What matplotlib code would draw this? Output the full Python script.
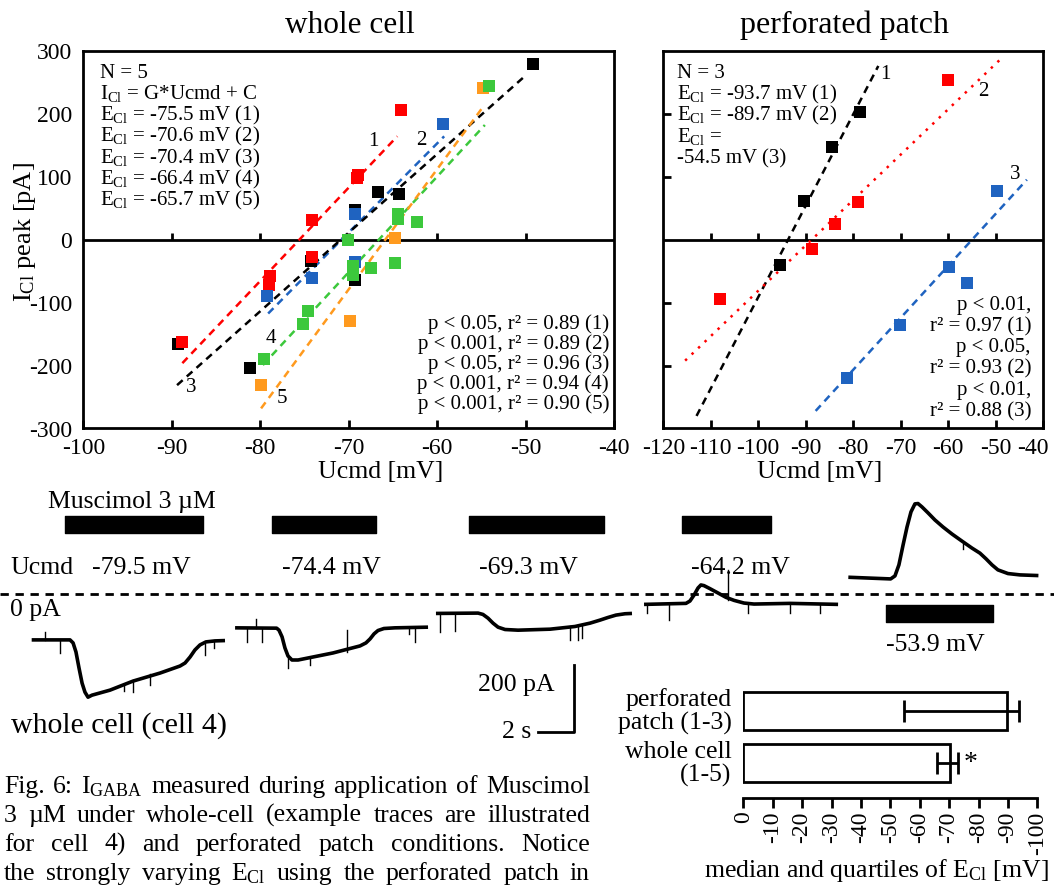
import numpy as np
import matplotlib
matplotlib.use('Agg')
import matplotlib.pyplot as plt
from matplotlib.transforms import ScaledTranslation

plt.rcParams['font.family'] = ['Liberation Serif', 'DejaVu Serif']
plt.rcParams['mathtext.fontset'] = 'custom'
plt.rcParams['mathtext.rm'] = 'Liberation Serif'
plt.rcParams['mathtext.it'] = 'Liberation Serif:italic'
plt.rcParams['axes.linewidth'] = 2
plt.rcParams['axes.unicode_minus'] = False

W, H = 1054, 888
ECL = r'$\mathregular{E_{Cl}}$'

# ---- whole cell I/V data (Ucmd [mV], I_Cl peak [pA]) ----
cell1_x = [-88.8, -79.0, -78.9, -74.1, -74.1, -69.1, -68.9, -64.1]
cell1_y = [-162, -72, -58, -27, 32, 98, 103, 207]
cell2_x = [-79.2, -74.2, -69.3, -69.3, -59.3]
cell2_y = [-89, -60, -35, 42, 185]
cell3_x = [-89.3, -81.1, -74.3, -69.3, -69.3, -66.7, -64.3, -49.2]
cell3_y = [-166, -204, -33, -64, 48, 77, 73, 280]
cell4_x = [-79.6, -75.2, -74.6, -70.1, -69.5, -69.5, -69.5, -67.5, -64.8, -64.4, -64.4, -62.3, -54.1]
cell4_y = [-189, -134, -113, 0, -42, -52, -56, -44, -37, 33, 42, 28, 245]
cell5_x = [-79.9, -69.9, -64.8, -54.8]
cell5_y = [-230, -129, 3, 242]
# fit lines (start, end)
wc_fit_x = [(-88.8, -64.5), (-79.1, -59.2), (-89.4, -49.9), (-79.7, -54.6), (-79.9, -54.8)]
wc_fit_y = [(-196, 165), (-117, 165), (-231, 263), (-199, 183), (-268, 212)]
wc_lab_x = [-67.2, -61.8, -87.8, -78.8, -77.5]
wc_lab_y = [157, 159, -234, -157, -252]
wc_ecl = [-75.5, -70.6, -70.4, -66.4, -65.7]
wc_p = ['0.05', '0.001', '0.05', '0.001', '0.001']
wc_r2 = [0.89, 0.89, 0.96, 0.94, 0.90]

# ---- perforated patch I/V data ----
pp1_x = [-95.4, -90.3, -84.5, -78.6]
pp1_y = [-40, 62, 148, 204]
pp2_x = [-108.1, -88.7, -83.8, -78.9, -60.1]
pp2_y = [-94, -14, 25, 60, 255]
pp3_x = [-81.4, -70.1, -59.9, -56.0, -49.6]
pp3_y = [-219, -135, -43, -69, 78]
pp_fit_x = [(-113.0, -74.7), (-115.4, -48.5), (-87.9, -43.4)]
pp_fit_y = [(-280, 277), (-192, 291), (-272, 96)]
pp_lab_x = [-73.3, -52.5, -45.8]
pp_lab_y = [264, 236, 104]
pp_ecl = [-93.7, -89.7, -54.5]
pp_p = ['0.01', '0.05', '0.01']
pp_r2 = [0.97, 0.93, 0.88]

# ---- example traces, cell 4 (time [s], current [pA]) ----
tr1_t = [1.76, 3.89, 4.06, 4.22, 4.39, 4.56, 4.72, 4.89, 5.11, 6.11, 7.39, 8.89, 10.0, 10.28, 10.56, 10.83,
         11.11, 11.44, 11.94, 12.5]
tr1_i = [-137, -137, -146, -173, -221, -266, -293, -308, -302, -287, -260, -236, -215, -206, -188, -167,
         -152, -143, -140, -139]
tr2_t = [13.06, 15.37, 15.5, 15.67, 15.83, 16.0, 16.22, 16.56, 18.5, 20.0, 20.33, 20.56, 20.78, 21.0, 21.33,
         21.94, 23.78]
tr2_i = [-101, -102, -108, -128, -161, -185, -197, -197, -176, -155, -146, -134, -119, -109, -103, -101, -99]
tr3_t = [24.22, 26.56, 26.83, 27.11, 27.39, 27.67, 28.06, 28.78, 30.56, 31.94, 32.78, 33.33, 33.78, 34.22,
         34.72, 35.11]
tr3_i = [-58, -57, -61, -72, -87, -99, -106, -108, -105, -97, -87, -78, -70, -63, -59, -58]
tr4_t = [35.78, 38.11, 38.33, 38.56, 38.78, 38.94, 39.11, 39.44, 39.89, 40.33, 40.78, 41.33, 41.89, 43.89, 46.56]
tr4_i = [-31, -28, -21, -3, 18, 27, 25, 16, 3, -10, -19, -27, -30, -28, -31]
tr5_t = [47.13, 49.48, 49.72, 49.94, 50.17, 50.39, 50.61, 50.83, 51.0, 51.22, 51.56, 51.94, 52.39, 52.89,
         53.44, 54.0, 54.44, 54.78, 55.11, 55.44, 56.0, 56.67, 57.69]
tr5_i = [50, 45, 54, 87, 146, 200, 245, 269, 270, 260, 242, 221, 200, 179, 158, 137, 122, 105, 87, 72, 61,
         57, 55]
# single-channel spikes (time, from, to)
spikes = [(2.5, -137, -113), (3.33, -137, -176), (7.4, -258, -293), (8.33, -240, -272), (6.9, -268, -290),
          (11.4, -150, -182), (11.9, -140, -160),
          (13.7, -101, -142), (14.2, -101, -75), (14.56, -101, -142), (16.0, -190, -221), (17.2, -193, -212),
          (19.28, -108, -173), (23.06, -99, -142), (22.7, -100, -120),
          (24.44, -58, -112), (25.28, -57, -110), (31.67, -97, -137), (32.11, -95, -137), (32.33, -94, -130),
          (35.94, -30, -57), (37.17, -28, -78), (40.44, -18, 72), (41.56, -30, -57), (43.9, -28, -57),
          (45.56, -30, -57), (53.5, 150, 135)]
# muscimol application (start [s], duration [s])
app_start = [3.62, 15.11, 26.06, 37.89, 49.22]
app_dur = [7.66, 5.8, 7.48, 4.94, 5.97]
ucmd_labels = ['-79.5 mV', '-74.4 mV', '-69.3 mV', '-64.2 mV', '-53.9 mV']

# ---- E_Cl summary ----
groups = ['whole cell\n(1-5)', 'perforated\npatch (1-3)']
ecl_median = [-70.4, -89.7]
ecl_lo = [-65.8, -54.5]
ecl_hi = [-72.9, -93.7]

RED, BLUE, GREEN, ORANGE, BLACK = '#ff0000', '#1f63c0', '#3cc83c', '#ff9a1e', '#000000'


def box(x0, y0, x1, y1):
    return [x0 / W, 1 - y1 / H, (x1 - x0) / W, (y1 - y0) / H]


fig = plt.figure(figsize=(W / 100, H / 100), dpi=100)


def put(x, y, s, **kw):
    return fig.text(x / W, 1 - y / H, s, **kw)


def iv_axes(rect, xlim, xt):
    ax = fig.add_axes(rect)
    ax.set_xlim(*xlim)
    ax.set_ylim(-300, 300)
    ax.axhline(0, color='k', lw=2, zorder=1)
    ax.set_xticks(xt)
    ax.tick_params(axis='x', direction='in', length=6, width=2, labelsize=17, pad=7)
    ax.vlines(xt[1:-1], 0, 11, color='k', lw=2, zorder=1)
    return ax


# whole cell panel
ax1 = iv_axes(box(83.3, 51.5, 614, 428.5), (-100, -40), list(range(-100, -39, 10)))
ax1.set_yticks(range(-300, 301, 100))
ax1.tick_params(axis='y', length=0, labelsize=17, pad=8)
ax1.set_xlabel('Ucmd [mV]', fontsize=18.5)
ax1.xaxis.set_label_coords(0.56, -0.085)
ax1.set_ylabel(r'$\mathregular{I_{Cl}}$ peak [pA]', fontsize=19)
ax1.yaxis.set_label_coords(-0.085, 0.52)
wc_colors = [RED, BLUE, BLACK, GREEN, ORANGE]
for (fx, fy, c) in zip(wc_fit_x, wc_fit_y, wc_colors):
    ax1.plot(fx, fy, color=c, lw=1.8, dashes=(3, 2.2), zorder=2)
for x, y, c in [(cell3_x, cell3_y, BLACK), (cell1_x, cell1_y, RED), (cell2_x, cell2_y, BLUE),
                (cell5_x, cell5_y, ORANGE), (cell4_x, cell4_y, GREEN)]:
    ax1.plot(x, y, 's', color=c, ms=8, mew=0, zorder=3)
for i, (lx, ly) in enumerate(zip(wc_lab_x, wc_lab_y)):
    ax1.text(lx, ly, str(i + 1), fontsize=15, ha='center', va='center')

# perforated patch panel
ax2 = iv_axes(box(663.3, 51.5, 1043, 428.5), (-120, -40), list(range(-120, -39, 10)))
ax2.set_yticks([-200, -100, 100, 200])
ax2.tick_params(axis='y', direction='in', length=6, width=2, labelleft=False)
last = ax2.get_xticklabels()[-1]
last.set_transform(last.get_transform() + ScaledTranslation(-10 / 100, 0, fig.dpi_scale_trans))
ax2.set_xlabel('Ucmd [mV]', fontsize=18.5)
ax2.xaxis.set_label_coords(0.413, -0.085)
pp_colors = [BLACK, RED, BLUE]
pp_dash = [(3, 2.2), (1.0, 2.6), (3, 2.2)]
for fx, fy, c, d in zip(pp_fit_x, pp_fit_y, pp_colors, pp_dash):
    ax2.plot(fx, fy, color=c, lw=1.8, dashes=d, zorder=2)
for x, y, c in [(pp2_x, pp2_y, RED), (pp1_x, pp1_y, BLACK), (pp3_x, pp3_y, BLUE)]:
    ax2.plot(x, y, 's', color=c, ms=8, mew=0, zorder=3)
for i, (lx, ly) in enumerate(zip(pp_lab_x, pp_lab_y)):
    ax2.text(lx, ly, str(i + 1), fontsize=15, ha='center', va='center')

# panel texts
put(350, 33, 'whole cell', fontsize=22.5, ha='center', va='baseline')
put(844, 33, 'perforated patch', fontsize=23, ha='center', va='baseline')

left_lines = ['N = 5', r'$\mathregular{I_{Cl}}$ = G*Ucmd + C'] + \
             [ECL + ' = %.1f mV (%d)' % (e, i + 1) for i, e in enumerate(wc_ecl)]
for k, s in enumerate(left_lines):
    put(100, 78 + 21.3 * k, s, fontsize=15, va='baseline')
for k, (p, r) in enumerate(zip(wc_p, wc_r2)):
    put(609, 329 + 20 * k, 'p < %s, r² = %.2f (%d)' % (p, r, k + 1), fontsize=15, ha='right', va='baseline')

right_lines = ['N = 3', ECL + ' = %.1f mV (1)' % pp_ecl[0], ECL + ' = %.1f mV (2)' % pp_ecl[1],
               ECL + ' =', '%.1f mV (3)' % pp_ecl[2]]
for k, s in enumerate(right_lines):
    put(677, 78 + 21.3 * k, s, fontsize=15, va='baseline')
for k, (p, r) in enumerate(zip(pp_p, pp_r2)):
    put(1031, 309.5 + 42.5 * k, 'p < %s,' % p, fontsize=15, ha='right', va='baseline')
    put(1031, 331 + 42.5 * k, 'r² = %.2f (%d)' % (r, k + 1), fontsize=15, ha='right', va='baseline')

# traces
PX_S, PX_PA, ZERO_Y = 18.0, 0.335, 594
axt = fig.add_axes(box(0, 480, W, 740))
axt.set_xlim(0, W / PX_S)
axt.set_ylim(-(740 - ZERO_Y) / PX_PA, (ZERO_Y - 480) / PX_PA)
axt.axis('off')
axt.axhline(0, color='k', lw=2, dashes=(3, 2.4))
for t, i in [(tr1_t, tr1_i), (tr2_t, tr2_i), (tr3_t, tr3_i), (tr4_t, tr4_i), (tr5_t, tr5_i)]:
    axt.plot(t, i, color='k', lw=2.6, solid_joinstyle='round', solid_capstyle='butt')
for t, a, b in spikes:
    axt.plot([t, t], [a, b], color='k', lw=1)
bar_y = [(181, 52)] * 4 + [(-83, 50)]
for s, d, (y0, h) in zip(app_start, app_dur, bar_y):
    axt.broken_barh([(s, d)], (y0, h), color='k')
# scale bar: 2 s, 200 pA
sb_t, sb_i = 574 / PX_S, -(732 - ZERO_Y) / PX_PA
axt.plot([sb_t - 2, sb_t, sb_t], [sb_i, sb_i, sb_i + 200], color='k', lw=2)
axt.text(sb_t - 1.1, sb_i + 140, '200 pA', fontsize=18.5, ha='right', va='center')
axt.text(sb_t - 2.4, sb_i, '2 s', fontsize=18.5, ha='right', va='center')

put(48, 502, 'Muscimol 3 µM', fontsize=18.5, va='center')
put(10, 568, 'Ucmd', fontsize=18.5, va='center')
for xc, lab in zip([141, 331, 528, 740], ucmd_labels[:4]):
    put(xc, 568, lab, fontsize=18.5, ha='center', va='center')
put(935, 645, ucmd_labels[4], fontsize=18.5, ha='center', va='center')
put(10, 610, '0 pA', fontsize=18.5, va='center')
put(11, 733, 'whole cell (cell 4)', fontsize=21.5, va='baseline')

# E_Cl summary bars
axb = fig.add_axes(box(743.3, 685, 1037.3, 797.7))
ypos = np.arange(len(groups))
axb.barh(ypos, ecl_median, height=0.73, color='white', edgecolor='k', lw=2)
med = np.array(ecl_median)
err = [med - np.array(ecl_hi), np.array(ecl_lo) - med]
axb.errorbar(med, ypos, xerr=err, fmt='none', ecolor='k', elinewidth=2, capsize=8, capthick=2)
axb.text(-75, 0, '*', fontsize=20, ha='left', va='center')
axb.set_xlim(0, -100)
axb.set_ylim(-0.658, 1.49)
axb.set_xticks(range(0, -101, -10))
axb.set_xticklabels([str(v) for v in range(0, -101, -10)], rotation=90)
axb.tick_params(axis='x', direction='out', length=7, width=2, labelsize=17, pad=3)
axb.set_yticks([])
for sp in ['left', 'right', 'top']:
    axb.spines[sp].set_visible(False)
put(731.7, 706, 'perforated', fontsize=18.5, ha='right', va='baseline')
put(731.7, 730, 'patch (1-3)', fontsize=18.5, ha='right', va='baseline')
put(731.7, 758, 'whole cell', fontsize=18.5, ha='right', va='baseline')
put(731.7, 782, '(1-5)', fontsize=18.5, ha='right', va='baseline')
put(876, 877, 'median and quartiles of ' + ECL + ' [mV]', fontsize=18.5, ha='center', va='baseline')

# justified caption
caption = ['Fig. 6: $\\mathregular{I_{GABA}}$ measured during application of Muscimol',
           '3 µM under whole-cell (example traces are illustrated',
           'for cell 4) and perforated patch conditions. Notice',
           'the strongly varying ' + ECL + ' using the perforated patch in']
renderer = fig.canvas.get_renderer()
for k, line in enumerate(caption):
    words = line.split(' ')
    texts = [put(0, 0, w, fontsize=18.5, va='baseline') for w in words]
    widths = [t.get_window_extent(renderer).width for t in texts]
    gap = (590 - 4 - sum(widths)) / (len(words) - 1)
    x = 4
    for t, w in zip(texts, widths):
        t.set_position((x / W, 1 - (793 + 29 * k) / H))
        x += w + gap

fig.savefig('out.png', dpi=100)
